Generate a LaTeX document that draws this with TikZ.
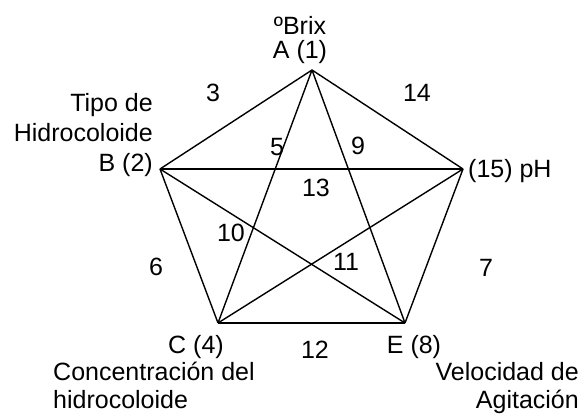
\documentclass[tikz,border=0pt]{standalone}
\usepackage{fontspec}
\setmainfont{Liberation Sans}
\begin{document}
\begin{tikzpicture}[x=1pt,y=-1pt,
  edge/.style={line width=1.4pt,line join=round},
  lbl/.style={inner sep=0pt,font=\fontsize{25}{30}\selectfont},
  num/.style={inner sep=0pt,anchor=center,font=\fontsize{25}{30}\selectfont}]
\useasboundingbox (0,0) rectangle (582,417);
% vertices
\coordinate (A) at (312,70);
\coordinate (B) at (160,169);
\coordinate (P) at (463,169);
\coordinate (C) at (218,323);
\coordinate (E) at (405,323);
% pentagon sides
\draw[edge] (A) -- (B);
\draw[edge] (A) -- (P);
\draw[edge] (B) -- (C);
\draw[edge] (P) -- (E);
\draw[edge] (C) -- (E);
% diagonals
\draw[edge] (A) -- (C);
\draw[edge] (A) -- (E);
\draw[edge] (B) -- (P);
\draw[edge] (B) -- (E);
\draw[edge] (C) -- (P);
% vertex labels
\node[lbl,anchor=base] (brix) at (300,35) {ºBrix};
\node[lbl,anchor=base] (la) at (300,59) {A (1)};
\node[lbl,anchor=base east] (lb1) at (153,112) {Tipo de};
\node[lbl,anchor=base east] (lb2) at (153,142) {Hidrocoloide};
\node[lbl,anchor=base east] (lb3) at (153,172) {B (2)};
\node[lbl,anchor=base west] (lp) at (468,178) {(15) pH};
\node[lbl,anchor=base] (lc) at (196,354) {C (4)};
\node[lbl,anchor=base west] (lc1) at (53,381) {Concentración del};
\node[lbl,anchor=base west] (lc2) at (53,409) {hidrocoloide};
\node[lbl,anchor=base] (le) at (414,354) {E (8)};
\node[lbl,anchor=base east] (le1) at (579,381) {Velocidad de};
\node[lbl,anchor=base east] (le2) at (579,409) {Agitación};
% edge numbers
\node[num] (n3) at (213,93) {3};
\node[num] (n14) at (417,93) {14};
\node[num] (n5) at (277,147) {5};
\node[num] (n9) at (358,146) {9};
\node[num] (n13) at (316,188) {13};
\node[num] (n10) at (231,233) {10};
\node[num] (n11) at (346,262) {11};
\node[num] (n6) at (156,267) {6};
\node[num] (n7) at (486,268) {7};
\node[num] (n12) at (315,350) {12};
\end{tikzpicture}
\end{document}
